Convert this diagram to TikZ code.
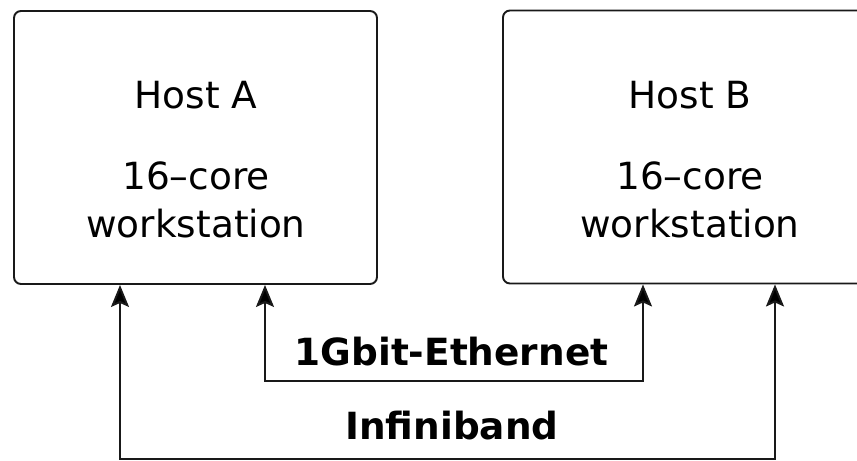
\documentclass[tikz,border=0pt]{standalone}
\usepackage{fontspec}
\setmainfont{DejaVu Sans}
\usepackage{tikz}
\usetikzlibrary{arrows.meta,positioning}

\tikzset{
  hostbox/.style={draw=black!90, line width=1.1pt, rounded corners=0.14cm, minimum height=5.46cm},
  hosttext/.style={align=center, font=\fontsize{21.3pt}{27.3pt}\selectfont},
  linktext/.style={anchor=base, font=\fontsize{21.3pt}{27.3pt}\selectfont\bfseries},
  link/.style={draw=black!90, line width=1.1pt,
    {Stealth[length=0.44cm,width=0.36cm,inset=0.08cm,fill=black]}-{Stealth[length=0.44cm,width=0.36cm,inset=0.08cm,fill=black]}}
}

\begin{document}
\begin{tikzpicture}
		\useasboundingbox (0,0) rectangle (17.14,9.2);
		%Boxes for the two hosts
		\node[hostbox, minimum width=7.26cm] (hostA) at (3.91,6.25) {};
		\node[hostbox, minimum width=7.46cm] (hostB) at (13.79,6.26) {};
		\node[hosttext] (textA) at (3.92,6.0) {Host A\\[18.8pt]16--core\\workstation};
		\node[hosttext] (textB) at (13.8,6.0) {Host B\\[18.8pt]16--core\\workstation};
		%Corners of the two links
		\coordinate (ethL) at (5.3,1.58);
		\coordinate (ethR) at (12.86,1.58);
		\coordinate (ibL) at (2.4,0.02);
		\coordinate (ibR) at (15.5,0.02);
		\draw[link] (hostA.south -| ethL) -- (ethL) -- (ethR) -- (hostB.south -| ethR);
		\draw[link] (hostA.south -| ibL) -- (ibL) -- (ibR) -- (hostB.south -| ibR);
		\node[linktext] (eth) at (9.03,1.9) {1Gbit-Ethernet};
		\node[linktext] (ib) at (9.04,0.42) {Infiniband};
\end{tikzpicture}
\end{document}
